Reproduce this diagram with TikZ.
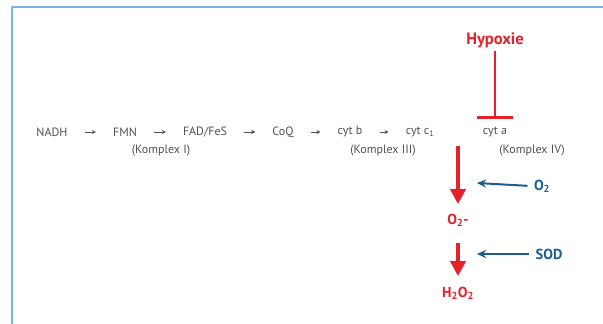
\documentclass[tikz,border=0pt]{standalone}
\usepackage{fontspec}
\setmainfont{PT Sans}
\usetikzlibrary{arrows.meta}
\definecolor{txtgrey}{RGB}{80,80,80}
\definecolor{hred}{RGB}{228,32,40}
\definecolor{hblue}{RGB}{28,92,142}
\definecolor{frameblue}{RGB}{125,178,228}
\tikzset{
	step label/.style={text=txtgrey, inner sep=3pt, font=\fontsize{12}{14}\selectfont},
	red label/.style={text=hred, font=\fontsize{14.5}{17}\selectfont\bfseries},
	blue label/.style={text=hblue, font=\fontsize{14.5}{17}\selectfont\bfseries},
	chain/.style={-{Stealth[length=4pt,width=4pt]}, txtgrey, line width=0.8pt, shorten >=14pt, shorten <=14pt},
	red arrow/.style={-{Triangle[length=15pt,width=15pt]}, hred, line width=4.5pt},
	blue arrow/.style={-{Stealth[length=9pt,width=8pt]}, hblue, line width=2pt}
}
\begin{document}
\begin{tikzpicture}[x=1pt, y=-1pt, line join=round, >=stealth]
				\useasboundingbox (0,0) rectangle (603,324);
				\draw[frameblue, line width=2.6pt] (12,330)--(12,7)--(610,7);
				% Atmungskette
				\node[step label] (nadh) at (52,132) {NADH};
				\node[step label] (fmn) at (125,132) {FMN};
				\node[step label] (fad) at (205,132) {FAD/FeS};
				\node[step label] (coq) at (283,132) {CoQ};
				\node[step label] (cytb) at (350,132) {cyt b};
				\node[step label] (cytc) at (420,132) {cyt c\textsubscript{1}};
				\node[step label] (cyta) at (495,132) {cyt a};
				\node[step label] (k1) at (161,151) {(Komplex I)};
				\node[step label] (k3) at (383,151) {(Komplex III)};
				\node[step label] (k4) at (532,151) {(Komplex IV)};
				\draw[chain] (nadh)--(fmn);
				\draw[chain] (fmn)--(fad);
				\draw[chain] (fad)--(coq);
				\draw[chain] (coq)--(cytb);
				\draw[chain] (cytb)--(cytc);
				% Hemmung durch Hypoxie
				\node[text=hred, font=\fontsize{16.5}{19}\selectfont\bfseries] (hyp) at (495,40) {Hypoxie};
				\coordinate (block) at (495,119);
				\draw[hred, line width=1.3pt, -{Bar[width=36pt,line width=3.2pt]}] (hyp.south)--(block);
				% Radikalbildung
				\coordinate (leak) at (458,146);
				\node[red label] (o2m) at (458,220) {O\textsubscript{2}-};
				\node[red label] (h2o2) at (458,293) {H\textsubscript{2}O\textsubscript{2}};
				\draw[red arrow, shorten >=6pt] (leak)--(o2m.north);
				\draw[red arrow, shorten <=13pt, shorten >=7pt] (o2m.south)--(h2o2.north);
				\node[blue label] (o2) at (542,186) {O\textsubscript{2}};
				\node[blue label] (sod) at (549,254) {SOD};
				\coordinate (o2in) at (477,183);
				\coordinate (sodin) at (477,254);
				\draw[blue arrow, shorten <=3pt] (o2.west)--(o2in);
				\draw[blue arrow, shorten <=3pt] (sod.west)--(sodin);
			\end{tikzpicture}
\end{document}
